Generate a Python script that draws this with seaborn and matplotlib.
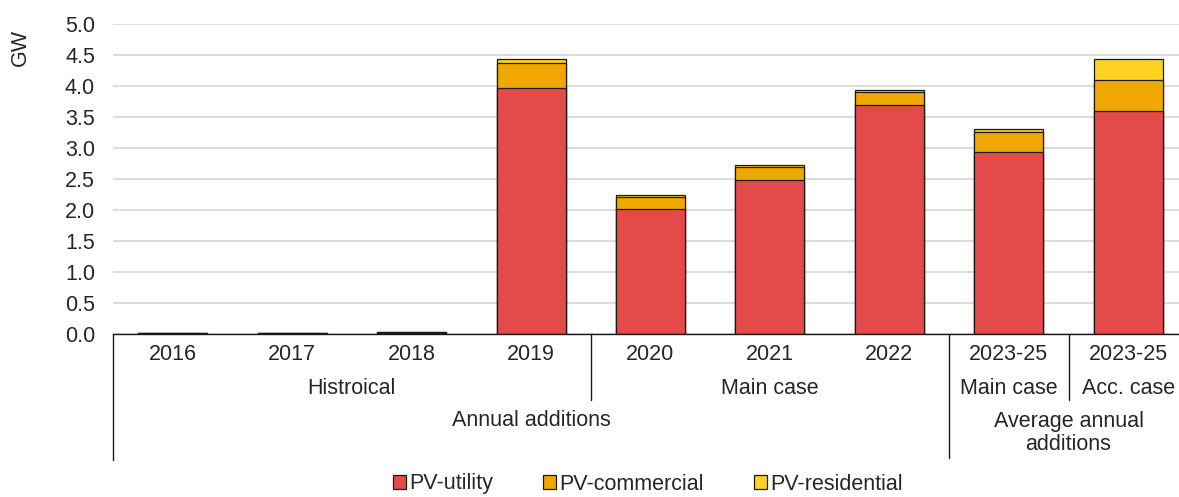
import numpy as np
import pandas as pd
import seaborn as sns
import matplotlib.pyplot as plt
from matplotlib.transforms import blended_transform_factory

# data (GW)
keys = ["2016", "2017", "2018", "2019", "2020", "2021", "2022", "2023-25 main", "2023-25 acc"]
year_labels = ["2016", "2017", "2018", "2019", "2020", "2021", "2022", "2023-25", "2023-25"]
utility = [0.01, 0.01, 0.02, 3.97, 2.01, 2.49, 3.69, 2.93, 3.60]
commercial = [0.005, 0.005, 0.01, 0.40, 0.20, 0.20, 0.21, 0.33, 0.50]
residential = [0.003, 0.003, 0.005, 0.06, 0.03, 0.04, 0.03, 0.04, 0.34]

colors = {"PV-utility": "#E34B4A", "PV-commercial": "#F0A800", "PV-residential": "#FFD320"}

sns.set_style("white")
plt.rcParams["font.family"] = ["Liberation Sans", "DejaVu Sans"]
FS = 15.5

W, H = 1179, 497
fig = plt.figure(figsize=(W / 100, H / 100), dpi=100)
ax = fig.add_axes([113 / W, (H - 334) / H, 1075 / W, 310 / H])

df = pd.DataFrame({"key": keys, "util": utility, "comm": commercial, "res": residential})
df["c2"] = df["util"] + df["comm"]
df["c3"] = df["c2"] + df["res"]

bw = 0.577
sns.barplot(data=df, x="key", y="c3", order=keys, color=colors["PV-residential"], width=bw,
            edgecolor="#1a1a1a", linewidth=0.9, saturation=1, ax=ax, label="PV-residential")
sns.barplot(data=df, x="key", y="c2", order=keys, color=colors["PV-commercial"], width=bw,
            edgecolor="#1a1a1a", linewidth=0.9, saturation=1, ax=ax, label="PV-commercial")
sns.barplot(data=df, x="key", y="util", order=keys, color=colors["PV-utility"], width=bw,
            edgecolor="#1a1a1a", linewidth=0.9, saturation=1, ax=ax, label="PV-utility")

handles, labels = ax.get_legend_handles_labels()
if ax.get_legend() is not None:
    ax.get_legend().remove()

ax.set_xlim(-0.5, 8.5)
ax.set_ylim(0, 5.0)
ax.set_yticks(np.arange(0, 5.01, 0.5))
ax.set_yticklabels([f"{v:.1f}" for v in np.arange(0, 5.01, 0.5)], fontsize=FS)
ax.yaxis.grid(True, color="#d9d9d9", linewidth=1.3)
ax.set_axisbelow(True)
ax.tick_params(axis="y", length=0, pad=13)
ax.set_xticks([])
ax.set_xlabel("")
ax.set_ylabel("")
for s in ["top", "right", "left"]:
    ax.spines[s].set_visible(False)
ax.spines["bottom"].set_color("#1a1a1a")
ax.spines["bottom"].set_linewidth(1.0)

fig.text(20 / W, 1 - 48 / H, "GW", rotation=90, ha="center", va="center", fontsize=FS)

# multi-level category axis
tr = blended_transform_factory(ax.transData, fig.transFigure)
fy = lambda py: 1 - py / H
for i, lab in enumerate(year_labels):
    ax.text(i, fy(355), lab, transform=tr, ha="center", va="center", fontsize=FS)
ax.text(1.5, fy(388), "Histroical", transform=tr, ha="center", va="center", fontsize=FS)
ax.text(5.0, fy(388), "Main case", transform=tr, ha="center", va="center", fontsize=FS)
ax.text(7.0, fy(388), "Main case", transform=tr, ha="center", va="center", fontsize=FS)
ax.text(8.0, fy(388), "Acc. case", transform=tr, ha="center", va="center", fontsize=FS)
ax.text(3.0, fy(421), "Annual additions", transform=tr, ha="center", va="center", fontsize=FS)
ax.text(7.5, fy(433), "Average annual\nadditions", transform=tr, ha="center", va="center",
        fontsize=FS, linespacing=1.1)

for xs, bottom in [(-0.5, 460), (3.5, 400), (6.5, 458), (7.5, 400)]:
    ax.plot([xs, xs], [fy(334), fy(bottom)], transform=tr, color="#1a1a1a",
            linewidth=1.0, clip_on=False)

order = [labels.index(n) for n in ["PV-utility", "PV-commercial", "PV-residential"]]
fig.legend([handles[i] for i in order], [labels[i] for i in order], loc="center",
           bbox_to_anchor=(648 / W, fy(484)), ncol=3, frameon=False, fontsize=FS,
           handlelength=0.62, handleheight=0.62, handletextpad=0.15, columnspacing=2.3,
           borderaxespad=0, borderpad=0)

fig.savefig("out.png", dpi=100)
